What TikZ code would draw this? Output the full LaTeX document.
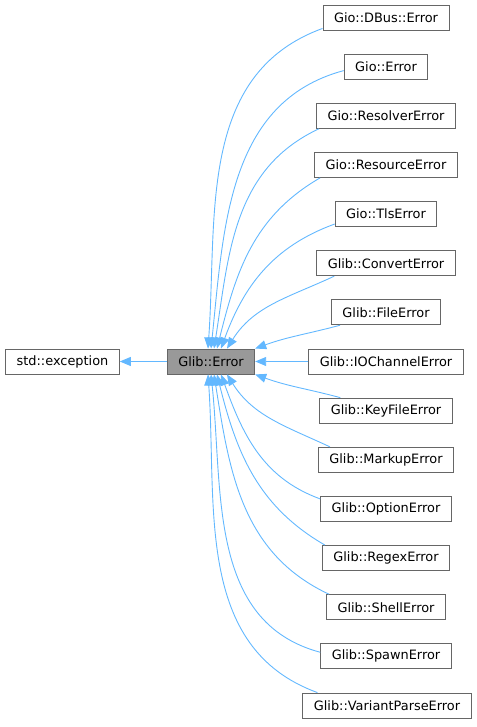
\documentclass[tikz,border=0pt]{standalone}
\usepackage{fontspec}
\setmainfont{DejaVu Sans}
\usetikzlibrary{arrows.meta}
\definecolor{EdgeBlue}{HTML}{63B8FF}
\definecolor{BoxLine}{HTML}{666666}
\definecolor{CurrentFill}{HTML}{999999}
\tikzset{
  graph/.style={x=1pt,y=1pt,font=\fontsize{12.9}{15}\selectfont},
  cls/.style={draw=BoxLine,line width=0.9pt,fill=white,inner xsep=11pt,inner ysep=0pt,minimum height=25pt},
  current/.style={cls,fill=CurrentFill},
  inherit/.style={-{Triangle[length=11pt,width=9pt]},line width=0.9pt,draw=EdgeBlue},
}

\begin{document}
\begin{tikzpicture}[graph]
  \useasboundingbox (0,0) rectangle (476,727);

  \node[cls] (stdexc) at (62.5,365.5) {std::exception};
  \node[current] (glib) at (211,365.5) {Glib::Error};

  \node[cls] (dbus) at (386,709.5) {Gio::DBus::Error};
  \node[cls] (gioerr) at (386,660.4) {Gio::Error};
  \node[cls] (resolver) at (386,611.2) {Gio::ResolverError};
  \node[cls] (resource) at (386,562.1) {Gio::ResourceError};
  \node[cls] (tls) at (386,512.9) {Gio::TlsError};
  \node[cls] (convert) at (386,463.8) {Glib::ConvertError};
  \node[cls] (file) at (386,414.7) {Glib::FileError};
  \node[cls] (iochannel) at (386,365.5) {Glib::IOChannelError};
  \node[cls] (keyfile) at (386,316.4) {Glib::KeyFileError};
  \node[cls] (markup) at (386,267.2) {Glib::MarkupError};
  \node[cls] (option) at (386,218.1) {Glib::OptionError};
  \node[cls] (regex) at (386,169.0) {Glib::RegexError};
  \node[cls] (shell) at (386,119.8) {Glib::ShellError};
  \node[cls] (spawn) at (386,70.7) {Glib::SpawnError};
  \node[cls] (variant) at (387,21.5) {Glib::VariantParseError};

  \draw[inherit] (glib) -- (stdexc);

  % upper children
  \draw[inherit] ([yshift=2pt]dbus.south west) to[out=200,in=86] ([xshift=-3pt]glib.north);
  \draw[inherit] ([yshift=-4pt]gioerr.west) to[out=195,in=84] (glib.north);
  \draw[inherit] ([xshift=3pt]resolver.south west) to[out=205,in=81] ([xshift=3pt]glib.north);
  \draw[inherit] ([xshift=6pt]resource.south west) to[out=210,in=76] ([xshift=6pt]glib.north);
  \draw[inherit] ([yshift=3pt]tls.south west) to[out=200,in=70] ([xshift=10pt]glib.north);
  \draw[inherit] ([xshift=18pt]convert.south west) to[out=205,in=58] ([xshift=16pt]glib.north);
  \draw[inherit] ([xshift=9pt]file.south west) to[out=195,in=20] (glib.north east);
  \draw[inherit] (iochannel) -- (glib);

  % lower children
  \draw[inherit] ([xshift=21pt]keyfile.north west) to[out=165,in=-20] (glib.south east);
  \draw[inherit] ([xshift=12pt]markup.north west) to[out=155,in=-58] ([xshift=16pt]glib.south);
  \draw[inherit] ([yshift=-3pt]option.north west) to[out=160,in=-70] ([xshift=10pt]glib.south);
  \draw[inherit] ([xshift=3pt]regex.north west) to[out=150,in=-76] ([xshift=6pt]glib.south);
  \draw[inherit] ([xshift=3pt]shell.north west) to[out=155,in=-81] ([xshift=3pt]glib.south);
  \draw[inherit] ([yshift=4pt]spawn.west) to[out=165,in=-84] (glib.south);
  \draw[inherit] ([xshift=15pt]variant.north west) to[out=160,in=-86] ([xshift=-3pt]glib.south);
\end{tikzpicture}
\end{document}
